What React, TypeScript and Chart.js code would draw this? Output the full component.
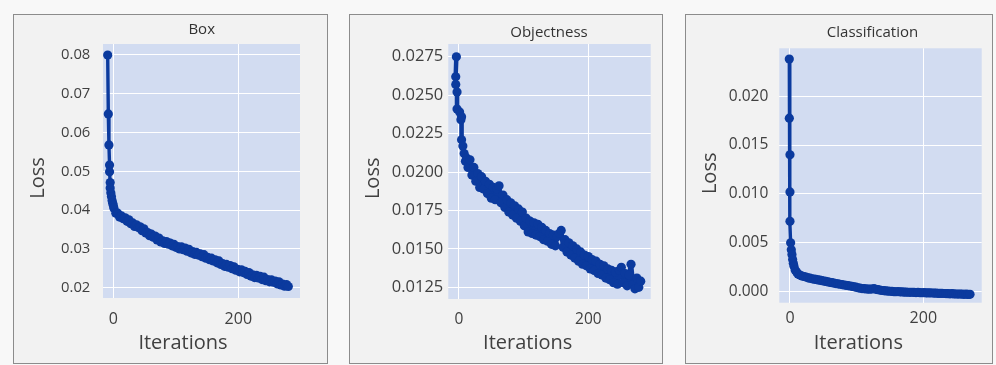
import React, { useEffect, useRef } from "react";
import { Chart, registerables } from "chart.js";

Chart.register(...registerables);

const FONT = "'Open Sans', 'Noto Sans', sans-serif";
const LINE_COLOR = "#0b3a9e";
const PLOT_BG = "#d2dcf1";
const TEXT_COLOR = "#404040";
const STEP = 3;

// ---------- Box loss ----------
const BOX_EARLY_ITER = [-9, -8, -7, -6, -6, -5, -5, -4, -3, -2, -1, 0];
const BOX_EARLY_LOSS = [0.08, 0.0648, 0.0568, 0.0516, 0.0499, 0.0471, 0.0457, 0.0445, 0.0435, 0.0425, 0.0418, 0.0412];
const BOX_TAIL_START = 1;
const BOX_TAIL_LOSS = [
  0.0405, 0.0392, 0.0392, 0.0382, 0.0385, 0.0378, 0.038, 0.0371, 0.0375, 0.0365,
  0.0367, 0.0358, 0.0362, 0.0355, 0.0357, 0.0347, 0.0352, 0.0341, 0.0342, 0.0334,
  0.0338, 0.033, 0.0333, 0.0323, 0.0328, 0.0318, 0.0321, 0.0314, 0.0319, 0.0312,
  0.0315, 0.0308, 0.0312, 0.0304, 0.0306, 0.03, 0.0305, 0.0298, 0.0302, 0.0294,
  0.0299, 0.029, 0.0293, 0.0286, 0.0291, 0.0284, 0.0287, 0.028, 0.0285, 0.0276,
  0.0278, 0.0272, 0.0276, 0.0269, 0.0272, 0.0264, 0.0269, 0.026, 0.0262, 0.0255,
  0.026, 0.0253, 0.0257, 0.0249, 0.0254, 0.0245, 0.0247, 0.0241, 0.0246, 0.0239,
  0.0242, 0.0234, 0.0239, 0.023, 0.0233, 0.0226, 0.0232, 0.0225, 0.0229, 0.0221,
  0.0227, 0.0218, 0.0221, 0.0215, 0.022, 0.0214, 0.0217, 0.021, 0.0215, 0.0207,
  0.0209, 0.0204, 0.0208, 0.0203,
];

// ---------- Objectness loss ----------
const OBJ_EARLY_ITER = [-4, -5, -5, -3, -3, 1, 3, 4, 4, 6, 8, 10, 12, 14];
const OBJ_EARLY_LOSS = [0.0275, 0.0262, 0.0257, 0.0252, 0.0241, 0.0239, 0.0234, 0.0236, 0.0221, 0.0217, 0.0212, 0.0207, 0.0209, 0.0203];
const OBJ_TAIL_START = 17;
const OBJ_TAIL_LOSS = [
  0.0208, 0.0198, 0.0203, 0.0194, 0.0199, 0.019, 0.0197, 0.0189, 0.0194, 0.0186,
  0.0192, 0.0183, 0.019, 0.0182, 0.0189, 0.0191, 0.018, 0.0185, 0.0177, 0.0182,
  0.0174, 0.018, 0.0172, 0.0178, 0.017, 0.0176, 0.0168, 0.0174, 0.0165, 0.017,
  0.0161, 0.0168, 0.016, 0.0167, 0.0159, 0.0166, 0.0158, 0.0164, 0.0156, 0.0162,
  0.0155, 0.016, 0.0153, 0.0159, 0.0152, 0.0158, 0.016, 0.0162, 0.0151, 0.0156,
  0.0148, 0.0154, 0.0146, 0.0152, 0.0144, 0.015, 0.0142, 0.0148, 0.014, 0.0146,
  0.0139, 0.0145, 0.0137, 0.0143, 0.0136, 0.0142, 0.0134, 0.014, 0.0133, 0.0139,
  0.0131, 0.0137, 0.013, 0.0136, 0.0128, 0.0135, 0.0127, 0.0136, 0.0138, 0.0128,
  0.0134, 0.0126, 0.0133, 0.014, 0.0127, 0.0124, 0.0131, 0.0125, 0.0129,
];

// ---------- Classification loss ----------
const CLS_EARLY_ITER = [-1, -1, 0, 0, 0, 1, 2, 3, 4, 5, 6, 8, 10, 12];
const CLS_EARLY_LOSS = [0.0238, 0.01775, 0.014, 0.0102, 0.0072, 0.005, 0.0043, 0.0038, 0.0033, 0.0029, 0.0026, 0.0022, 0.002, 0.0018];
const CLS_TAIL_START = 15;
const CLS_TAIL_LOSS = [
  0.0017, 0.0016, 0.00155, 0.0015, 0.00142, 0.00138, 0.00132, 0.00128, 0.00125, 0.0012,
  0.00118, 0.00112, 0.00108, 0.00105, 0.001, 0.00095, 0.00092, 0.00088, 0.00083, 0.0008,
  0.00076, 0.00072, 0.00068, 0.00065, 0.00062, 0.00058, 0.00055, 0.0005, 0.00046, 0.0004,
  0.00036, 0.00032, 0.0003, 0.00028, 0.00026, 0.00025, 0.00027, 0.0003, 0.00024, 0.0002,
  0.00016, 0.00012, 0.0001, 0.00008, 0.00006, 0.00004, 0.00002, 0.0, -0.00001, 0.00001,
  -0.00002, -0.00003, -0.00004, -0.00005, -0.00006, -0.00007, -0.00006, -0.00008, -0.00009, -0.00008,
  -0.0001, -0.00011, -0.0001, -0.00012, -0.00013, -0.00012, -0.00014, -0.00015, -0.00016, -0.00017,
  -0.00018, -0.00017, -0.00019, -0.0002, -0.00021, -0.00022, -0.00021, -0.00023, -0.00024, -0.00025,
  -0.00024, -0.00026, -0.00027, -0.00026, -0.00028, -0.00027,
];

const TITLES = ["Box", "Objectness", "Classification"];
const X_TITLE = "Iterations";
const Y_TITLE = "Loss";
const X_TICK_STEP = 200;

function toPoints(earlyIter: number[], earlyLoss: number[], start: number, tail: number[]) {
  const pts: { x: number; y: number }[] = [];
  earlyIter.forEach((it, i) => pts.push({ x: it, y: earlyLoss[i] }));
  tail.forEach((v, i) => pts.push({ x: start + i * STEP, y: v }));
  return pts;
}

type Spec = {
  title: string;
  points: { x: number; y: number }[];
  lineWidth: number;
  box: { left: number; top: number; width: number; height: number };
  xMin: number; xMax: number;
  yMin: number; yMax: number; yStep: number; decimals: number;
  yW: number; xH: number; topPad: number; rightPad: number;
  yTickPad: number; xTickPad: number; yTickSize: number; xTickSize: number;
  titlePos: [number, number]; xTitlePos: [number, number]; yTitlePos: [number, number];
};

const SPECS: Spec[] = [
  {
    title: TITLES[0],
    points: toPoints(BOX_EARLY_ITER, BOX_EARLY_LOSS, BOX_TAIL_START, BOX_TAIL_LOSS),
    lineWidth: 3.4,
    box: { left: 13, top: 14, width: 315, height: 350 },
    xMin: -16.5, xMax: 298.7, yMin: 0.01734, yMax: 0.08283, yStep: 0.01, decimals: 2,
    yW: 89, xH: 65, topPad: 29, rightPad: 27,
    yTickPad: 12.7, xTickPad: 11.5, yTickSize: 14.8, xTickSize: 16,
    titlePos: [187.7, 14.3], xTitlePos: [169, 328.3], yTitlePos: [24.3, 163],
  },
  {
    title: TITLES[1],
    points: toPoints(OBJ_EARLY_ITER, OBJ_EARLY_LOSS, OBJ_TAIL_START, OBJ_TAIL_LOSS),
    lineWidth: 4.6,
    box: { left: 349, top: 14, width: 314, height: 350 },
    xMin: -16.5, xMax: 296.4, yMin: 0.01174, yMax: 0.02833, yStep: 0.0025, decimals: 4,
    yW: 98.3, xH: 64, topPad: 29, rightPad: 11.3,
    yTickPad: 5, xTickPad: 11.5, yTickSize: 16.5, xTickSize: 15.5,
    titlePos: [199, 17.3], xTitlePos: [177.7, 328.3], yTitlePos: [23.3, 163.3],
  },
  {
    title: TITLES[2],
    points: toPoints(CLS_EARLY_ITER, CLS_EARLY_LOSS, CLS_TAIL_START, CLS_TAIL_LOSS),
    lineWidth: 3.4,
    box: { left: 685, top: 14, width: 308, height: 350 },
    xMin: -16, xMax: 287.5, yMin: -0.00113, yMax: 0.0249, yStep: 0.005, decimals: 3,
    yW: 93.3, xH: 60.3, topPad: 33.3, rightPad: 10.3,
    yTickPad: 11, xTickPad: 6.3, yTickSize: 15.5, xTickSize: 16,
    titlePos: [186.5, 17.3], xTitlePos: [172.3, 328.3], yTitlePos: [24, 158.3],
  },
];

const plotBg = {
  id: "plotBg",
  beforeDraw(chart: any) {
    const { ctx, chartArea } = chart;
    if (!chartArea) return;
    ctx.save();
    ctx.fillStyle = PLOT_BG;
    ctx.fillRect(chartArea.left, chartArea.top, chartArea.right - chartArea.left, chartArea.bottom - chartArea.top);
    ctx.restore();
  },
};

function makeTextPlugin(spec: Spec) {
  return {
    id: "panelTexts",
    afterDraw(chart: any) {
      const ctx = chart.ctx;
      ctx.save();
      ctx.textAlign = "center";
      ctx.textBaseline = "middle";
      ctx.fillStyle = "#333333";
      ctx.font = `15px ${FONT}`;
      ctx.fillText(spec.title, spec.titlePos[0], spec.titlePos[1]);
      ctx.fillStyle = TEXT_COLOR;
      ctx.font = `20px ${FONT}`;
      ctx.fillText(X_TITLE, spec.xTitlePos[0], spec.xTitlePos[1]);
      ctx.translate(spec.yTitlePos[0], spec.yTitlePos[1]);
      ctx.rotate(-Math.PI / 2);
      ctx.fillText(Y_TITLE, 0, 0);
      ctx.restore();
    },
  };
}

function Panel({ spec }: { spec: Spec }) {
  const ref = useRef<HTMLCanvasElement | null>(null);
  const cw = spec.box.width - 2;
  const ch = spec.box.height - 2;

  useEffect(() => {
    if (!ref.current) return;
    const chart = new Chart(ref.current, {
      type: "line",
      data: {
        datasets: [
          {
            data: spec.points,
            borderColor: LINE_COLOR,
            backgroundColor: LINE_COLOR,
            pointBackgroundColor: LINE_COLOR,
            pointBorderColor: LINE_COLOR,
            pointBorderWidth: 0,
            pointRadius: 4.6,
            borderWidth: spec.lineWidth,
            borderJoinStyle: "round",
            borderCapStyle: "round",
            tension: 0,
            fill: false,
          },
        ],
      },
      options: {
        responsive: false,
        animation: false,
        events: [],
        layout: { padding: { top: spec.topPad, left: 0, bottom: 0, right: spec.rightPad } },
        plugins: { legend: { display: false }, tooltip: { enabled: false }, title: { display: false } },
        scales: {
          x: {
            type: "linear",
            position: "bottom",
            min: spec.xMin,
            max: spec.xMax,
            afterFit: (s: any) => { s.height = spec.xH; },
            border: { display: false },
            grid: { color: "#ffffff", lineWidth: 1, drawTicks: false },
            ticks: {
              stepSize: X_TICK_STEP,
              includeBounds: false,
              padding: spec.xTickPad,
              color: TEXT_COLOR,
              maxRotation: 0,
              autoSkip: false,
              font: { family: FONT, size: spec.xTickSize },
              callback: (v: any) => String(Math.round(Number(v))),
            },
            title: { display: false },
          },
          y: {
            type: "linear",
            min: spec.yMin,
            max: spec.yMax,
            afterFit: (s: any) => { s.width = spec.yW; },
            border: { display: false },
            grid: { color: "#ffffff", lineWidth: 1, drawTicks: false },
            ticks: {
              stepSize: spec.yStep,
              includeBounds: false,
              padding: spec.yTickPad,
              color: TEXT_COLOR,
              autoSkip: false,
              font: { family: FONT, size: spec.yTickSize },
              callback: (v: any) => {
                const n = Number(v);
                return (Math.abs(n) < 1e-9 ? 0 : n).toFixed(spec.decimals);
              },
            },
            title: { display: false },
          },
        },
      } as any,
      plugins: [plotBg, makeTextPlugin(spec)],
    });
    return () => chart.destroy();
  }, [spec]);

  return (
    <div
      style={{
        position: "absolute",
        left: spec.box.left,
        top: spec.box.top,
        width: spec.box.width,
        height: spec.box.height,
        boxSizing: "border-box",
        border: "1px solid #8c8c8c",
        background: "#f2f2f2",
      }}
    >
      <canvas ref={ref} width={cw} height={ch} style={{ display: "block", width: cw, height: ch }} />
    </div>
  );
}

export default function App() {
  return (
    <div
      style={{
        position: "absolute",
        left: 0,
        top: 0,
        width: 996,
        height: 365,
        background: "#f8f8f8",
        overflow: "hidden",
      }}
    >
      {SPECS.map((s) => (
        <Panel key={s.title} spec={s} />
      ))}
    </div>
  );
}
